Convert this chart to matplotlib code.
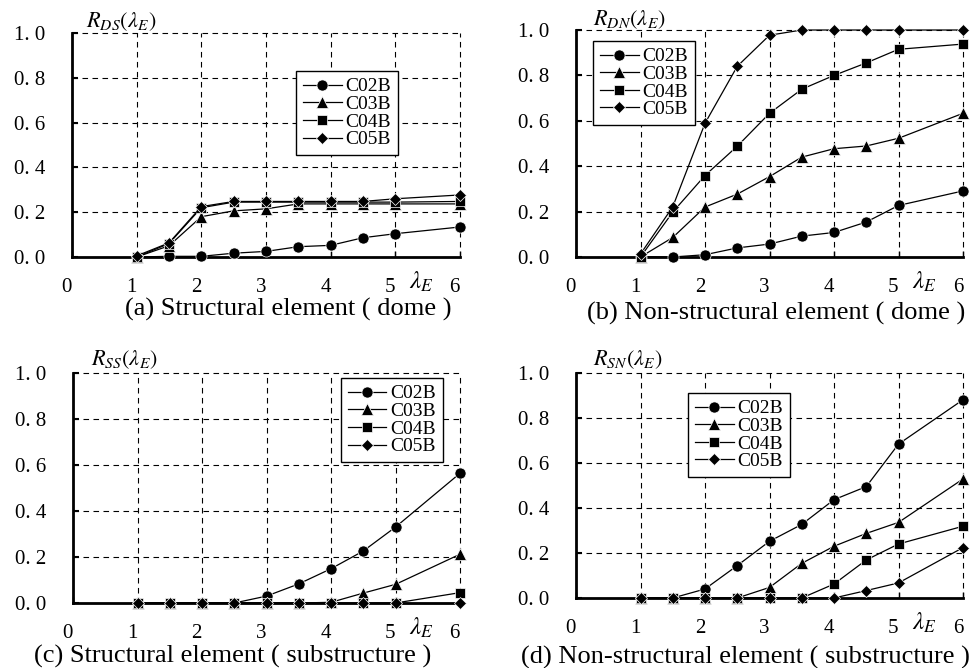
import numpy as np
import matplotlib
matplotlib.use('Agg')
import matplotlib.pyplot as plt

plt.rcParams.update({
    'font.family': ['Liberation Serif', 'DejaVu Serif'],
    'mathtext.fontset': 'stix',
})

# data
lam = [1, 1.5, 2, 2.5, 3, 3.5, 4, 4.5, 5, 6]
series = ['C02B', 'C03B', 'C04B', 'C05B']

dome_struct = {
    'C02B': [0.0, 0.003, 0.003, 0.017, 0.025, 0.046, 0.052, 0.086, 0.104, 0.134],
    'C03B': [0.0, 0.05, 0.18, 0.206, 0.215, 0.237, 0.237, 0.237, 0.237, 0.237],
    'C04B': [0.0, 0.06, 0.22, 0.245, 0.245, 0.245, 0.245, 0.245, 0.245, 0.248],
    'C05B': [0.005, 0.063, 0.225, 0.248, 0.248, 0.248, 0.248, 0.248, 0.26, 0.277],
}
dome_nonstruct = {
    'C02B': [0.002, 0.0, 0.01, 0.04, 0.057, 0.092, 0.108, 0.154, 0.227, 0.291],
    'C03B': [0.0, 0.086, 0.22, 0.277, 0.354, 0.44, 0.477, 0.489, 0.523, 0.633],
    'C04B': [0.0, 0.198, 0.359, 0.488, 0.633, 0.739, 0.80, 0.855, 0.915, 0.938],
    'C05B': [0.013, 0.221, 0.589, 0.84, 0.977, 1.0, 1.0, 1.0, 1.0, 1.0],
}
sub_struct = {
    'C02B': [0.0, 0.0, 0.0, 0.0, 0.03, 0.083, 0.149, 0.226, 0.33, 0.564],
    'C03B': [0.0, 0.0, 0.0, 0.0, 0.0, 0.0, 0.003, 0.043, 0.081, 0.212],
    'C04B': [0.0, 0.0, 0.0, 0.0, 0.0, 0.0, 0.0, 0.0, 0.0, 0.045],
    'C05B': [0.0, 0.0, 0.0, 0.0, 0.0, 0.0, 0.0, 0.0, 0.0, 0.0],
}
sub_nonstruct = {
    'C02B': [0.0, 0.0, 0.04, 0.144, 0.252, 0.327, 0.437, 0.495, 0.684, 0.881],
    'C03B': [0.0, 0.0, 0.0, 0.0, 0.047, 0.154, 0.23, 0.287, 0.336, 0.529],
    'C04B': [0.0, 0.0, 0.0, 0.0, 0.0, 0.0, 0.062, 0.169, 0.24, 0.319],
    'C05B': [0.0, 0.0, 0.0, 0.0, 0.0, 0.0, 0.0, 0.033, 0.067, 0.224],
}

ylabels = [r'$R_{DS}(\lambda_E)$', r'$R_{DN}(\lambda_E)$',
           r'$R_{SS}(\lambda_E)$', r'$R_{SN}(\lambda_E)$']
titles = ['(a) Structural element ( dome )',
          '(b) Non-structural element ( dome )',
          '(c) Structural element ( substructure )',
          '(d) Non-structural element ( substructure )']
yticks = [0.0, 0.2, 0.4, 0.6, 0.8, 1.0]
ytick_labels = ['0. 0', '0. 2', '0. 4', '0. 6', '0. 8', '1. 0']
xticks = [0, 1, 2, 3, 4, 5, 6]

markers = {'C02B': ('o', 8), 'C03B': ('^', 9), 'C04B': ('s', 6.5), 'C05B': ('D', 6.5)}

W, H = 974, 668
fig = plt.figure(figsize=(W/100, H/100), dpi=100)

def px_rect(l, r, t, b):
    return [l/W, 1 - b/H, (r - l)/W, (b - t)/H]

panels = [
    (dome_struct, px_rect(72, 460, 33, 257), (0.577, 0.83), (121, 22), (288, 309)),
    (dome_nonstruct, px_rect(576, 963, 30, 257), (0.044, 0.952), (629, 20), (776, 313)),
    (sub_struct, px_rect(73, 460, 373, 603), (0.692, 0.978), (124, 360), (233, 656)),
    (sub_nonstruct, px_rect(576, 963, 373, 598), (0.289, 0.911), (628, 360), (745, 657)),
]

for k, (data, rect, leg_pos, ylab_px, title_px) in enumerate(panels):
    ax = fig.add_axes(rect)
    for s in series:
        m, ms = markers[s]
        ax.plot(lam, data[s], color='black', lw=0.9, marker=m, ms=ms,
                mfc='black', mec='white', mew=0.5, label=s, clip_on=False, zorder=3)
    ax.set_xlim(0, 6)
    ax.set_ylim(0, 1.0)
    ax.set_xticks(xticks)
    ax.set_xticklabels([str(t) for t in xticks], ha='right', fontsize=15)
    ax.set_yticks(yticks)
    ax.set_yticklabels(ytick_labels, fontsize=15)
    ax.tick_params(axis='y', direction='in', length=4, width=1.5, pad=19)
    ax.tick_params(axis='x', direction='in', length=4, width=1.0, pad=15)
    ax.grid(True, color='black', linestyle=(0, (5, 4)), linewidth=0.8)
    for gl in ax.get_xgridlines() + ax.get_ygridlines():
        gl.set_clip_on(False)
    ax.spines[['top', 'right']].set_visible(False)
    ax.spines[['left', 'bottom']].set_linewidth(2)
    ax.set_axisbelow(True)
    leg = ax.legend(loc='upper left', bbox_to_anchor=leg_pos, prop={'size': 14},
                    fancybox=False, edgecolor='black', framealpha=1, borderaxespad=0,
                    handlelength=2.0, handletextpad=0.2, labelspacing=0.0, borderpad=0.35)
    leg.get_frame().set_linewidth(1.0)
    leg.set_zorder(5)
    ax.text(5.4, -0.11, r'$\lambda_E$', transform=ax.get_xaxis_transform(),
            ha='center', va='center', fontsize=18)
    fig.text(ylab_px[0]/W, 1 - ylab_px[1]/H, ylabels[k], ha='center', va='center', fontsize=16)
    fig.text(title_px[0]/W, 1 - title_px[1]/H, titles[k], ha='center', va='center', fontsize=19)

fig.savefig('out.png', dpi=100)
